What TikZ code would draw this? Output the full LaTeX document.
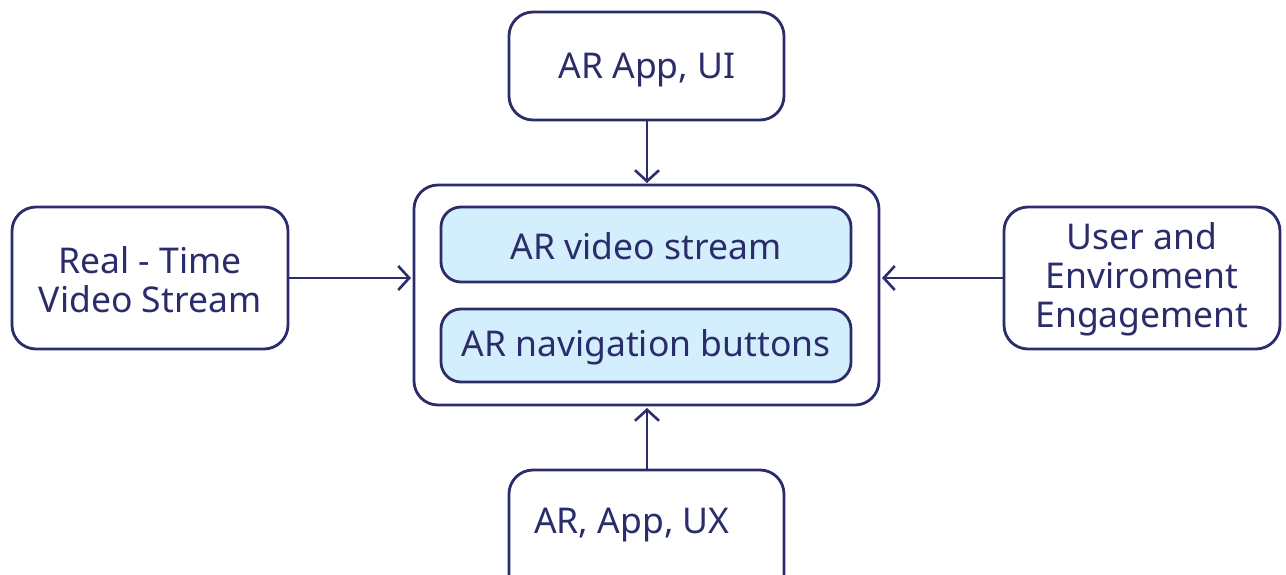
\documentclass[tikz,border=0pt]{standalone}
\usepackage{fontspec}
\setmainfont{Noto Sans}
\usetikzlibrary{arrows.meta}
\definecolor{navy}{HTML}{2B2D6B}
\definecolor{lblue}{HTML}{D3EEFC}
\begin{document}
\begin{tikzpicture}[x=1pt,y=-1pt,
  box/.style={draw=navy,line width=2.8pt,rounded corners=24pt},
  inbox/.style={draw=navy,line width=2.8pt,rounded corners=20pt,fill=lblue},
  lbl/.style={text=navy,font=\fontsize{35.5}{39}\selectfont,align=center,inner sep=0pt},
  conn/.style={draw=navy,line width=2.6pt,-{Straight Barb[length=11pt,width=24pt,line width=2.6pt]}}]
\useasboundingbox (0,0) rectangle (1286,575);
% boxes
\draw[box] (509,12) rectangle (784,120);
\coordinate (topS) at (647,120);
\node[lbl] (top) at (647,70) {AR App, UI};
\draw[box] (414,185) rectangle (879,405);
\coordinate (cN) at (647,183);
\coordinate (cS) at (647,408);
\coordinate (cW) at (411,278);
\coordinate (cE) at (882,278);
\draw[inbox] (441,207) rectangle (851,282);
\node[lbl] (v) at (646,246) {AR video stream};
\draw[inbox] (441,309) rectangle (851,382);
\node[lbl] (n) at (646,347) {AR navigation buttons};
\draw[box] (12,207) rectangle (288,349);
\coordinate (lE) at (288,278);
\node[lbl] (l) at (150,280) {Real - Time\\Video Stream};
\draw[box] (1004,207) rectangle (1280,349);
\coordinate (rW) at (1004,278);
\node[lbl] (r) at (1142,279) {User and\\Enviroment\\Engagement};
\draw[box] (509,470) rectangle (784,600);
\coordinate (bN) at (647,470);
\node[lbl,anchor=west] (b) at (534,525) {AR, App, UX};
% connectors
\draw[conn] (topS) -- (cN);
\draw[conn] (bN) -- (cS);
\draw[conn] (lE) -- (cW);
\draw[conn] (rW) -- (cE);
\end{tikzpicture}
\end{document}
